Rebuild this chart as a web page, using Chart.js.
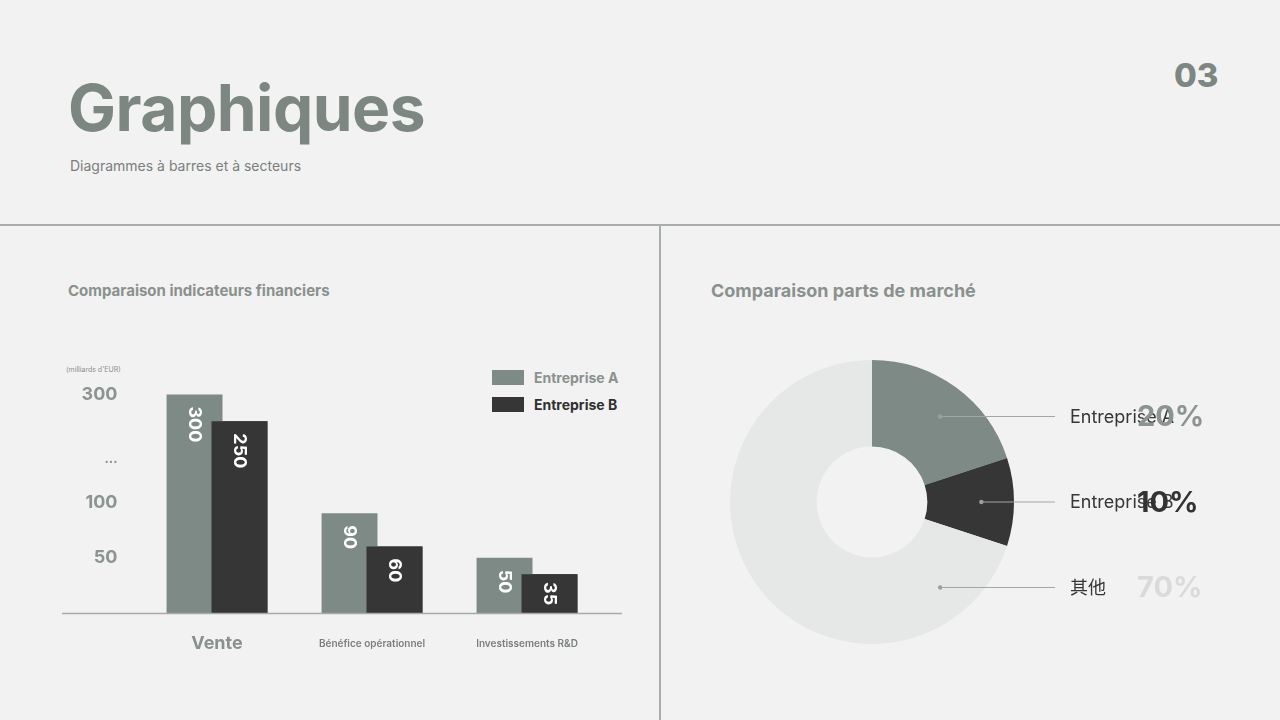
<!DOCTYPE html>
<html>
<head>
<meta charset="utf-8">
<script src="https://cdn.jsdelivr.net/npm/chart.js@4/dist/chart.umd.min.js"></script>
<style>
  html, body { margin: 0; padding: 0; }
  body {
    width: 1280px; height: 720px; position: relative; overflow: hidden;
    background: #f2f2f2;
    font-family: Inter, "Noto Sans CJK SC", sans-serif;
  }
  .abs { position: absolute; }
  .title { left: 68px; top: 76px; font-size: 64px; font-weight: 700; color: #7d8782; letter-spacing: -0.5px; line-height: 1; }
  .subtitle { left: 70px; top: 157px; font-size: 14px; color: #7a7f7c; }
  .page { left: 1174px; top: 55px; font-size: 33px; font-weight: 800; color: #7d8782; }
  .hline { left: 0; top: 224px; width: 1280px; height: 1.5px; background: #a9adab; }
  .vline { left: 659px; top: 225px; width: 1.5px; height: 495px; background: #a9adab; }
  .ptitle { font-weight: 700; color: #8a918d; }
  .unit { left: 66px; top: 365px; font-size: 7px; color: #8a8f8c; }
  .legend { left: 492px; top: 364px; }
  .legend div { display: flex; align-items: center; height: 27px; font-size: 14px; font-weight: 700; }
  .legend span.sw { width: 32px; height: 15px; margin-right: 10px; }
  #barBox { left: 40px; top: 340px; width: 600px; height: 320px; }
  #pieBox { left: 722px; top: 352px; width: 520px; height: 300px; }
</style>
</head>
<body>
<div class="abs title">Graphiques</div>
<div class="abs subtitle">Diagrammes à barres et à secteurs</div>
<div class="abs page">03</div>
<div class="abs hline"></div>
<div class="abs vline"></div>
<div class="abs ptitle" style="left:68px;top:281px;font-size:15px;">Comparaison indicateurs financiers</div>
<div class="abs ptitle" style="left:711px;top:280px;font-size:18px;">Comparaison parts de marché</div>
<div class="abs unit">(milliards d'EUR)</div>
<div class="abs legend" id="legend"></div>
<div class="abs" id="barBox"><canvas id="bar"></canvas></div>
<div class="abs" id="pieBox"><canvas id="pie"></canvas></div>
<script>
const categories = ["Vente", "Bénéfice opérationnel", "Investissements R&D"];
const seriesNames = ["Entreprise A", "Entreprise B"];
const seriesA = [300, 90, 50];
const seriesB = [250, 60, 35];
const yTickValues = [50, 100, 180, 300];
const yTickLabels = ["50", "100", "...", "300"];

const pieLabels = ["Entreprise A", "Entreprise B", "其他"];
const pieValues = [20, 10, 70];

const colA = "#7e8a85";
const colB = "#353635";
const colOther = "#e6e8e7";
const legendTextColors = ["#8a928e", "#2f3030"];
const pctColors = ["#8b9490", "#333333", "#d9dbda"];

Chart.defaults.font.family = "Inter, 'Noto Sans CJK SC', sans-serif";

// y axis with a break: everything up to breakAt gets breakShare of the height
class BrokenScale extends Chart.LinearScale {
  getPixelForValue(value) {
    const { breakAt, breakShare } = this.options;
    let dec;
    if (value <= breakAt) {
      dec = (value - this.min) / (breakAt - this.min) * breakShare;
    } else {
      dec = breakShare + (value - breakAt) / (this.max - breakAt) * (1 - breakShare);
    }
    return this.getPixelForDecimal(dec);
  }
  getValueForPixel(pixel) {
    const { breakAt, breakShare } = this.options;
    const dec = this.getDecimalForPixel(pixel);
    if (dec <= breakShare) return this.min + dec / breakShare * (breakAt - this.min);
    return breakAt + (dec - breakShare) / (1 - breakShare) * (this.max - breakAt);
  }
}
BrokenScale.id = "broken";
BrokenScale.defaults = Chart.LinearScale.defaults;
Chart.register(BrokenScale);

// legend
const legendEl = document.getElementById("legend");
seriesNames.forEach((name, i) => {
  const row = document.createElement("div");
  row.innerHTML = `<span class="sw" style="background:${[colA, colB][i]}"></span><span style="color:${legendTextColors[i]}">${name}</span>`;
  legendEl.appendChild(row);
});

const barLabels = {
  id: "barLabels",
  afterDatasetsDraw(chart) {
    const ctx = chart.ctx;
    // chart.js paints dataset 0 last; put B back on top of A like the slide
    chart.getDatasetMeta(1).controller.draw();

    // baseline across the panel
    const y0 = chart.scales.y.getPixelForValue(0);
    ctx.save();
    ctx.strokeStyle = "#a6aba8";
    ctx.lineWidth = 1.5;
    ctx.beginPath();
    ctx.moveTo(22, y0 + 0.5);
    ctx.lineTo(582, y0 + 0.5);
    ctx.stroke();

    ctx.fillStyle = "#ffffff";
    ctx.font = "700 18px Inter, sans-serif";
    ctx.textAlign = "left";
    ctx.textBaseline = "middle";
    chart.data.datasets.forEach((ds, di) => {
      chart.getDatasetMeta(di).data.forEach((el, i) => {
        const txt = String(ds.data[i]);
        const w = ctx.measureText(txt).width;
        const pad = Math.min(12, Math.max(4, (el.base - el.y - w) / 2));
        ctx.save();
        ctx.translate(el.x, el.y + pad);
        ctx.rotate(Math.PI / 2);
        ctx.fillText(txt, 0, 0);
        ctx.restore();
      });
    });
    ctx.restore();
  }
};

new Chart(document.getElementById("bar"), {
  type: "bar",
  data: {
    labels: categories,
    datasets: [
      { label: seriesNames[0], data: seriesA, backgroundColor: colA },
      { label: seriesNames[1], data: seriesB, backgroundColor: colB },
    ],
  },
  options: {
    responsive: true,
    maintainAspectRatio: false,
    animation: false,
    layout: { padding: { top: 10, right: 35.5, left: 0, bottom: 0 } },
    datasets: {
      bar: { categoryPercentage: 0.58, barPercentage: 1.244, borderWidth: 0 },
    },
    plugins: {
      legend: { display: false },
      tooltip: { enabled: false },
    },
    scales: {
      x: {
        grid: { display: false, drawTicks: false },
        border: { display: false },
        afterFit: (s) => { s.height = 47; },
        ticks: {
          padding: 20,
          color: (c) => (c.index === 0 ? "#8a918d" : "#7a7f7c"),
          font: (c) => (c.index === 0
            ? { size: 18, weight: "700", lineHeight: 1.2 }
            : { size: 10, weight: "600", lineHeight: 2.16 }),
        },
      },
      y: {
        type: "broken",
        min: 0,
        max: 340,
        breakAt: 100,
        breakShare: 0.461,
        grid: { display: false, drawTicks: false },
        border: { display: false },
        afterFit: (s) => { s.width = 99.5; },
        afterBuildTicks: (s) => { s.ticks = yTickValues.map((v) => ({ value: v })); },
        ticks: {
          padding: 22,
          color: "#8c9490",
          font: (c) => (c.index === 2 ? { size: 13, weight: "700" } : { size: 18, weight: "700" }),
          callback: (v) => yTickLabels[yTickValues.indexOf(v)],
        },
      },
    },
  },
  plugins: [barLabels],
});

const pieCallouts = {
  id: "pieCallouts",
  afterDraw(chart) {
    const ctx = chart.ctx;
    const arc = chart.getDatasetMeta(0).data[0];
    const cx = arc.x, cy = arc.y, outer = arc.outerRadius;
    const values = chart.data.datasets[0].data;
    const total = values.reduce((a, b) => a + b, 0);
    const n = values.length;
    const dotR = outer * 0.77;
    const labelX = cx + 198;
    const pctX = cx + 265;
    ctx.save();
    chart.data.labels.forEach((lab, i) => {
      const y = cy + (i - (n - 1) / 2) * 85.5;
      const dy = y - cy;
      const x0 = cx + Math.sqrt(Math.max(dotR * dotR - dy * dy, 0));
      ctx.strokeStyle = "#a2a7a4";
      ctx.lineWidth = 1.2;
      ctx.beginPath();
      ctx.moveTo(x0, y);
      ctx.lineTo(labelX - 15, y);
      ctx.stroke();
      ctx.fillStyle = "#9aa09d";
      ctx.beginPath();
      ctx.arc(x0, y, 2.2, 0, Math.PI * 2);
      ctx.fill();

      ctx.textAlign = "left";
      ctx.textBaseline = "middle";
      ctx.fillStyle = "#363636";
      ctx.font = "400 18px Inter, 'Noto Sans CJK SC', sans-serif";
      ctx.fillText(lab, labelX, y + 1);
      ctx.fillStyle = pctColors[i];
      ctx.font = "700 29px Inter, sans-serif";
      ctx.fillText(Math.round(values[i] / total * 100) + "%", pctX, y + 1);
    });
    ctx.restore();
  }
};

new Chart(document.getElementById("pie"), {
  type: "doughnut",
  data: {
    labels: pieLabels,
    datasets: [{
      data: pieValues,
      backgroundColor: [colA, colB, colOther],
      borderWidth: 0,
    }],
  },
  options: {
    responsive: true,
    maintainAspectRatio: false,
    animation: false,
    cutout: "39%",
    layout: { padding: { left: 8, top: 8, bottom: 8, right: 228 } },
    plugins: {
      legend: { display: false },
      tooltip: { enabled: false },
    },
  },
  plugins: [pieCallouts],
});
</script>
</body>
</html>
